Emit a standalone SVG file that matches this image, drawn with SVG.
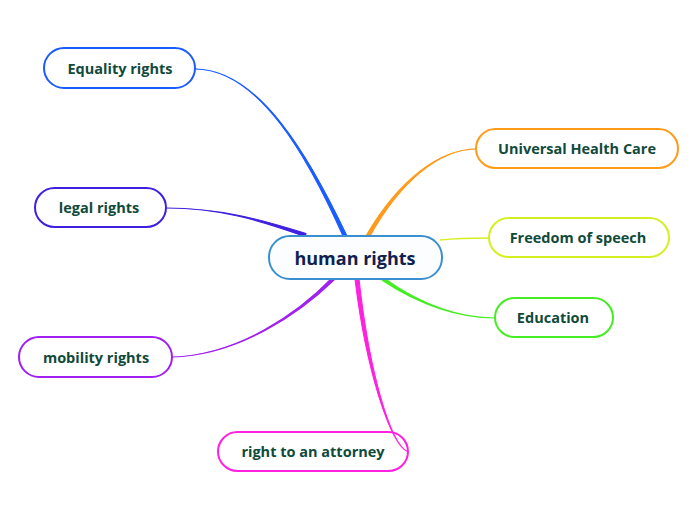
<svg xmlns="http://www.w3.org/2000/svg" width="696" height="520" viewBox="0 0 696 520">
<style>
.n{fill:none;stroke-width:2}
.t{font-family:"Open Sans","Noto Sans",sans-serif;font-weight:bold;font-size:14.5px;fill:#104a3a;text-anchor:middle;dominant-baseline:central}
.c{stroke-width:1.1;stroke-linejoin:round}
</style>
<rect width="696" height="520" fill="#ffffff"/>
<g id="connectors">
<path class="c" fill="#1a5cff" stroke="#1a5cff" d="M195,69 C260,69 311,160 347,236 L343,236 C309,160 260,69.5 195,69 Z"/>
<path class="c" fill="#4020e0" stroke="#4020e0" d="M166,208 C220,208 260,220.5 305,236.5 L306,233.5 C261,219.5 220,208 166,208 Z"/>
<path class="c" fill="#a020f0" stroke="#a020f0" d="M172,357 C240,355 300.5,312.5 334,280 L332,278 C299.5,311.5 240,355 172,357 Z"/>
<path class="c" fill="#ff20e0" stroke="#ff20e0" d="M408,452 C390,444 369,370 359,279 L355,279 C366,370 390,444 408,452 Z"/>
<path class="c" fill="#ff9a1a" stroke="#ff9a1a" d="M476,149 C440,149.5 401,180 369.5,237 L366.5,235 C399,179.5 440,149 476,149 Z"/>
<path fill="none" stroke="#d4f020" stroke-width="1.6" d="M440,240 C460,238 470,238 489,238"/>
<path class="c" fill="#44ee22" stroke="#44ee22" d="M495,318 C460,318 420,305.5 382.5,280.5 L384,278 C420,304.5 460,318 495,318 Z"/>
</g>
<g id="center">
<rect x="269" y="236" width="173" height="43" rx="21" fill="#fbfdff" stroke="#3a8fd0" stroke-width="2"/>
<text x="355" y="257.5" style="font-family:'Open Sans','Noto Sans',sans-serif;font-weight:bold;font-size:18px;fill:#102050;text-anchor:middle;dominant-baseline:central">human rights</text>
</g>
<g id="equality">
<rect class="n" x="44" y="48" width="151" height="40" rx="20" stroke="#1a5cff"/>
<text class="t" x="120" y="68.5">Equality rights</text>
</g>
<g id="legal">
<rect class="n" x="35" y="188" width="131" height="39" rx="19.5" stroke="#4020e0"/>
<text class="t" x="99" y="207.5">legal rights</text>
</g>
<g id="mobility">
<rect class="n" x="19" y="337" width="153" height="40" rx="20" stroke="#a020f0"/>
<text class="t" x="96" y="357">mobility rights</text>
</g>
<g id="attorney">
<rect class="n" x="218" y="432" width="190" height="39" rx="19.5" stroke="#ff20e0"/>
<text class="t" x="313" y="451.5">right to an attorney</text>
</g>
<g id="health">
<rect class="n" x="476" y="129" width="202" height="39" rx="19.5" stroke="#ff9a1a"/>
<text class="t" x="577" y="148.5">Universal Health Care</text>
</g>
<g id="speech">
<rect class="n" x="489" y="218" width="180" height="39" rx="19.5" stroke="#d4f020"/>
<text class="t" x="578" y="237.5">Freedom of speech</text>
</g>
<g id="education">
<rect class="n" x="495" y="298" width="118" height="39" rx="19.5" stroke="#44ee22"/>
<text class="t" x="553" y="317.5">Education</text>
</g>
</svg>
